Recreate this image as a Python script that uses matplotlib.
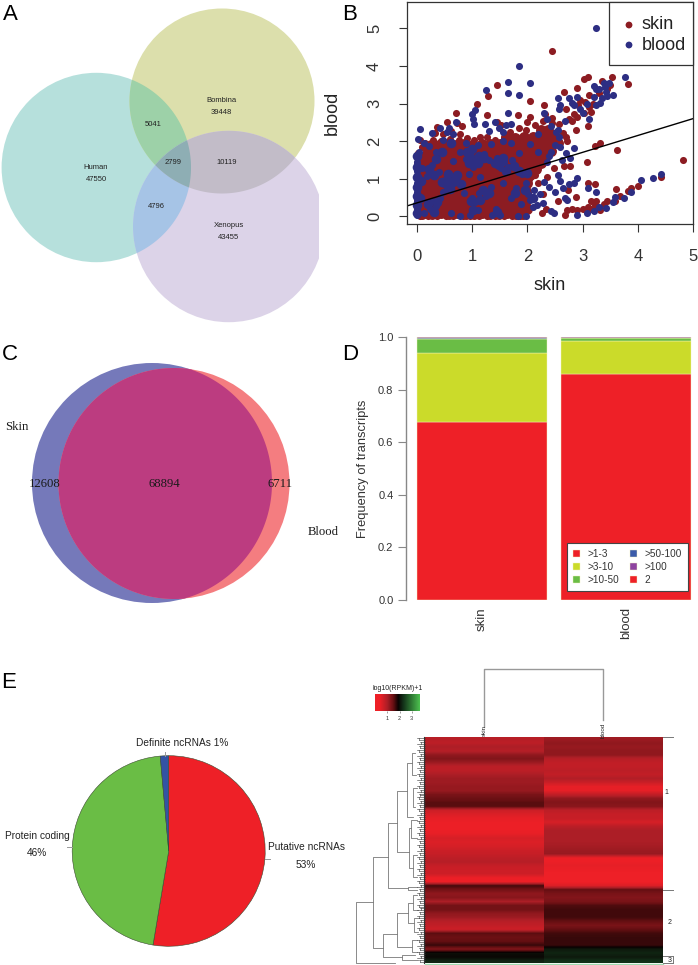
import numpy as np
import matplotlib
matplotlib.use('Agg')
import matplotlib.pyplot as plt
from matplotlib.colors import LinearSegmentedColormap
from matplotlib.patches import Circle, Polygon, Rectangle

W, H = 698, 965
plt.rcParams['font.family'] = ['Liberation Sans', 'DejaVu Sans']

# panel A
venn3_labels = ['Human', 'Bombina', 'Xenopus']
venn3_only = [47550, 39448, 43455]
venn3_pairs = [5041, 4796, 10119]
venn3_all = 2799

# panel B, points, (x, y)
skin_pts = [
    (0.05,0.0),(0.2,0.01),(0.36,0.0),(0.52,0.02),(0.66,0.0),(0.83,0.01),(0.97,0.0),(1.12,0.02),(1.27,0.0),(1.41,0.01),(1.58,0.0),(1.72,0.02),(1.86,0.0),
    (0.02,0.14),(0.15,0.16),(0.3,0.13),(0.46,0.17),(0.6,0.14),(0.76,0.18),(0.9,0.13),(1.05,0.16),(1.2,0.14),(1.34,0.18),(1.49,0.13),(1.63,0.17),(1.79,0.14),(1.94,0.16),
    (0.08,0.32),(0.24,0.3),(0.38,0.34),(0.53,0.31),(0.69,0.35),(0.84,0.3),(0.98,0.33),(1.13,0.3),(1.28,0.35),(1.42,0.31),(1.56,0.34),(1.71,0.3),(1.87,0.33),(2.0,0.3),
    (0.01,0.49),(0.16,0.5),(0.31,0.47),(0.45,0.52),(0.61,0.48),(0.77,0.51),(0.91,0.47),(1.06,0.52),(1.21,0.48),(1.35,0.5),(1.5,0.47),(1.64,0.52),(1.8,0.48),(1.93,0.5),
    (0.09,0.66),(0.23,0.64),(0.39,0.68),(0.54,0.65),(0.68,0.69),(0.82,0.64),(0.99,0.67),(1.14,0.64),(1.29,0.69),(1.43,0.65),(1.57,0.68),(1.72,0.64),(1.88,0.67),(2.02,0.65),
    (0.02,0.83),(0.17,0.81),(0.32,0.85),(0.47,0.82),(0.62,0.86),(0.75,0.81),(0.92,0.84),(1.07,0.81),(1.22,0.86),(1.36,0.82),(1.51,0.85),(1.65,0.81),(1.81,0.84),(1.95,0.82),
    (0.1,1.0),(0.25,0.98),(0.4,1.02),(0.55,0.99),(0.7,1.03),(0.85,0.98),(1.0,1.01),(1.15,0.98),(1.3,1.03),(1.44,0.99),(1.59,1.02),(1.74,0.98),(1.89,1.01),(2.03,0.99),
    (0.03,1.17),(0.18,1.15),(0.33,1.19),(0.48,1.16),(0.63,1.2),(0.78,1.15),(0.93,1.18),(1.08,1.15),(1.23,1.2),(1.37,1.16),(1.52,1.19),(1.67,1.15),(1.82,1.18),(1.97,1.16),
    (0.11,1.34),(0.26,1.32),(0.41,1.36),(0.56,1.33),(0.71,1.37),(0.86,1.32),(1.01,1.35),(1.16,1.32),(1.31,1.37),(1.45,1.33),(1.6,1.36),(1.75,1.32),(1.9,1.35),(2.05,1.33),(2.2,1.36),
    (0.04,1.51),(0.19,1.49),(0.34,1.53),(0.49,1.5),(0.64,1.54),(0.79,1.49),(0.94,1.52),(1.09,1.49),(1.24,1.54),(1.38,1.5),(1.53,1.53),(1.68,1.49),(1.83,1.52),(1.98,1.5),(2.12,1.53),(2.28,1.5),
    (0.02,1.68),(0.12,1.66),(0.27,1.7),(0.42,1.67),(0.57,1.71),(0.72,1.66),(0.87,1.69),(1.02,1.66),(1.17,1.71),(1.32,1.67),(1.46,1.7),(1.61,1.66),(1.76,1.69),(1.91,1.67),(2.06,1.7),(2.22,1.67),(2.37,1.7),
    (0.1,1.85),(0.2,1.83),(0.35,1.87),(0.5,1.84),(0.65,1.88),(0.8,1.83),(0.95,1.86),(1.1,1.83),(1.25,1.88),(1.4,1.84),(1.55,1.87),(1.7,1.83),(1.85,1.86),(2.0,1.84),(2.15,1.87),(2.3,1.84),(2.45,1.87),
    (0.05,2.02),(0.14,1.96),(0.29,2.03),(0.44,2.0),(0.6,2.05),(0.76,2.02),(0.9,2.08),(1.04,2.02),(1.14,2.12),(1.27,2.1),(1.42,2.02),(1.58,2.08),(1.74,2.0),(1.9,2.06),(2.05,2.02),(2.2,2.06),(2.38,2.02),(2.52,2.1),(2.7,2.1),
    (0.33,2.22),(0.48,2.18),(0.62,2.28),(0.78,2.2),(0.72,2.48),(0.82,2.4),(0.54,2.52),(0.37,2.38),(1.45,2.5),(1.52,2.42),(1.68,2.25),(1.84,2.36),(1.98,2.3),(2.0,2.52),(2.13,2.42),(2.28,2.54),(2.44,2.48),(2.58,2.46),(2.65,2.22),(2.72,2.0),
    (0.71,2.75),(1.26,2.7),(1.83,2.7),(2.05,2.65),(2.3,2.95),(2.32,2.72),(1.09,3.0),(2.04,3.08),(1.29,3.2),(1.45,3.5),(2.44,4.4),(2.45,2.62),
    (2.67,3.3),(2.75,2.6),(2.7,2.85),(2.8,2.55),(2.85,2.72),(2.88,2.3),(2.9,2.65),(2.92,2.95),(2.95,3.1),(3.02,2.75),(3.04,3.05),(3.1,2.4),(3.12,2.9),(3.15,2.78),(3.18,3.0),(2.9,3.42),(3.02,3.65),(3.09,3.7),(3.35,3.6),(3.5,3.5),(3.53,3.7),(3.83,3.52),(3.3,3.28),(3.45,3.38),(3.12,3.22),
    (2.13,1.1),(2.2,0.9),(2.28,0.6),(2.35,1.05),(2.48,1.3),(2.55,0.4),(2.67,1.34),(2.78,1.35),(2.73,0.7),(2.88,0.52),(2.26,0.08),(2.33,0.2),(2.68,0.05),(2.72,0.18),(2.8,0.2),(2.9,0.16),(3.0,0.2),(3.1,0.25),(3.15,0.2),(3.22,0.3),(3.15,0.4),(3.25,0.42),(3.32,0.16),(3.38,0.32),(3.45,0.4),(3.58,0.42),(3.1,0.88),(3.23,0.85),(3.08,1.45),(3.62,1.77),(3.22,1.88),(3.32,1.96),(3.6,0.72),(3.68,0.55),(3.82,0.68),(3.87,0.77),(4.0,0.8),(4.42,1.05),(4.82,1.5),
]
# second reading of the dense cloud, between the rows above
skin_fill = [
    (0.1,0.07),(0.27,0.06),(0.43,0.08),(0.58,0.06),(0.73,0.08),(0.89,0.06),(1.03,0.07),(1.18,0.08),(1.33,0.06),(1.48,0.07),(1.64,0.08),(1.79,0.06),(1.92,0.07),
    (0.1,0.23),(0.22,0.24),(0.37,0.22),(0.53,0.25),(0.67,0.23),(0.83,0.24),(0.97,0.22),(1.12,0.25),(1.27,0.23),(1.41,0.24),(1.56,0.22),(1.7,0.25),(1.86,0.23),(2.0,0.2),
    (0.04,0.4),(0.16,0.41),(0.31,0.39),(0.46,0.42),(0.61,0.4),(0.76,0.42),(0.91,0.39),(1.06,0.41),(1.2,0.4),(1.35,0.42),(1.49,0.39),(1.64,0.41),(1.79,0.4),(1.94,0.42),
    (0.08,0.57),(0.24,0.58),(0.38,0.56),(0.53,0.59),(0.69,0.57),(0.84,0.58),(0.98,0.56),(1.13,0.59),(1.28,0.57),(1.42,0.58),(1.57,0.56),(1.72,0.59),(1.87,0.57),(1.98,0.58),
    (0.04,0.75),(0.16,0.73),(0.31,0.76),(0.46,0.74),(0.61,0.77),(0.76,0.73),(0.91,0.75),(1.06,0.73),(1.21,0.76),(1.35,0.74),(1.5,0.76),(1.64,0.73),(1.8,0.75),(1.95,0.74),
    (0.09,0.91),(0.24,0.9),(0.39,0.93),(0.54,0.9),(0.69,0.94),(0.83,0.9),(0.99,0.92),(1.14,0.9),(1.29,0.94),(1.43,0.9),(1.58,0.93),(1.73,0.9),(1.88,0.92),(1.99,0.9),
    (0.04,1.08),(0.17,1.07),(0.32,1.1),(0.47,1.07),(0.62,1.11),(0.77,1.06),(0.92,1.09),(1.07,1.06),(1.22,1.11),(1.37,1.07),(1.51,1.1),(1.66,1.07),(1.81,1.09),(1.96,1.07),(2.05,1.1),
    (0.1,1.25),(0.25,1.24),(0.4,1.27),(0.55,1.24),(0.7,1.28),(0.85,1.23),(1.0,1.26),(1.15,1.23),(1.3,1.28),(1.44,1.24),(1.59,1.27),(1.74,1.23),(1.89,1.26),(2.04,1.24),(2.15,1.26),
    (0.04,1.42),(0.18,1.41),(0.33,1.44),(0.48,1.41),(0.63,1.45),(0.78,1.41),(0.93,1.43),(1.08,1.41),(1.23,1.45),(1.37,1.41),(1.52,1.44),(1.67,1.41),(1.82,1.43),(1.97,1.41),(2.12,1.44),(2.25,1.41),
    (0.11,1.59),(0.26,1.58),(0.41,1.61),(0.56,1.58),(0.71,1.62),(0.86,1.57),(1.01,1.6),(1.16,1.57),(1.31,1.62),(1.45,1.58),(1.6,1.61),(1.75,1.58),(1.9,1.6),(2.05,1.58),(2.2,1.6),(2.32,1.58),
    (0.2,1.76),(0.35,1.75),(0.5,1.78),(0.65,1.75),(0.8,1.79),(0.95,1.74),(1.1,1.77),(1.25,1.74),(1.4,1.79),(1.55,1.75),(1.7,1.78),(1.85,1.75),(2.0,1.77),(2.15,1.75),(2.3,1.77),(2.42,1.75),
    (0.25,1.9),(0.4,1.9),(0.55,1.92),(0.7,1.9),(0.85,1.92),(1.0,1.9),(1.18,1.93),(1.33,1.93),(1.5,1.92),(1.65,1.94),(1.8,1.92),(1.97,1.94),(2.12,1.92),(2.28,1.95),(2.43,1.93),(2.55,1.95),
    (1.62,2.1),(1.78,2.08),(1.94,2.12),(2.1,2.1),(2.28,2.14),(2.44,2.16),(2.25,2.3),(2.38,2.3),
]
blood_pts = [
    (0.0,0.03),(0.0,0.2),(0.0,0.42),(0.0,0.65),(0.0,0.9),(0.0,1.2),(0.0,1.45),(0.03,1.72),(0.06,2.32),(0.02,2.06),
    (0.12,0.08),(0.24,0.2),(0.28,0.42),(0.34,0.28),(0.42,0.5),(0.62,0.08),(0.78,0.02),(0.97,0.03),(1.1,0.16),(1.36,0.04),(1.43,0.2),(1.5,0.05),(1.83,0.02),(1.97,0.01),
    (0.48,0.64),(0.55,0.78),(0.58,0.96),(0.63,0.85),(0.68,1.02),(0.74,0.92),(0.52,1.0),(0.85,0.62),(1.0,0.5),(1.05,0.38),(1.12,0.62),(1.25,0.55),(1.34,0.78),
    (0.18,1.08),(0.1,1.3),(0.28,1.36),(0.4,1.18),(0.94,1.14),(1.02,1.32),(1.14,1.06),(0.88,1.52),(0.98,1.62),(1.05,1.5),(1.22,1.66),(1.3,1.5),(0.78,1.72),(0.66,1.48),
    (1.52,1.28),(1.58,1.44),(1.65,1.32),(1.72,1.5),(1.45,1.56),(1.8,0.75),(1.88,0.32),(1.9,1.12),(1.98,0.88),(2.02,0.6),(2.1,0.24),(1.7,0.5),(1.55,0.9),
    (0.35,1.72),(0.22,1.88),(0.48,2.02),(0.55,2.25),(0.42,2.35),(0.58,2.36),(0.7,2.52),(0.66,2.2),(0.28,2.22),(0.12,1.94),(0.88,1.96),(1.1,1.9),(1.35,1.92),(1.55,2.0),(1.7,1.94),(1.85,1.7),(2.05,1.92),(2.2,1.72),
    (1.0,2.72),(1.02,2.58),(1.03,2.47),(1.06,2.84),(1.24,2.45),(1.3,2.28),(1.42,2.52),(1.48,2.35),(1.62,2.42),(1.65,2.74),(1.7,2.46),(1.56,2.24),(1.65,3.28),(1.65,3.58),(1.25,3.37),(1.84,3.22),(2.04,3.55),(1.85,3.99),(3.25,5.0),(2.2,2.2),(2.3,2.76),(2.35,2.6),(2.43,2.4),(2.52,2.25),(2.58,2.1),(2.6,1.85),(2.5,1.9),(2.42,1.72),(2.35,1.45),(2.4,1.62),(2.7,1.68),(2.55,2.3),(2.85,1.82),(2.78,1.55),(2.62,1.5),
    (2.56,3.14),(2.58,2.85),(2.6,2.95),(2.68,2.55),(2.75,3.15),(2.8,3.02),(2.85,2.95),(2.9,3.18),(2.95,2.85),(3.0,2.75),(3.08,3.0),(3.12,2.6),(3.2,3.48),(3.25,3.4),(3.2,3.18),(3.3,3.4),(3.25,2.95),(3.32,3.02),(3.42,3.3),(3.4,3.45),(3.48,3.55),(3.55,3.22),(3.35,3.15),(3.76,3.7),(3.45,3.2),(3.38,3.55),
    (2.12,0.7),(2.05,0.45),(2.18,0.3),(2.22,0.6),(2.3,0.92),(2.28,0.35),(2.4,0.78),(2.42,0.15),(2.48,0.1),(2.5,0.65),(2.55,1.1),(2.6,0.95),(2.65,0.75),(2.68,0.5),(2.72,0.45),(2.75,0.85),(2.85,0.88),(2.9,1.02),(2.9,0.03),(3.1,0.76),(3.24,0.65),(3.08,0.1),(3.2,0.14),(3.3,0.25),(3.42,0.22),(3.55,0.38),(3.58,0.52),(3.75,0.5),(3.88,0.65),(4.05,0.98),(4.28,1.02),(4.42,1.13),
]
# blue patches inside the cloud
blood_fill = [
    (0.0,0.1),(0.0,0.3),(0.0,0.55),(0.0,0.78),(0.0,1.05),(0.0,1.32),(0.0,1.6),(0.06,0.5),(0.07,0.95),
    (0.5,0.88),(0.6,0.72),(0.66,0.92),(0.72,1.1),(0.45,0.92),(0.8,0.85),(0.56,1.12),(0.36,0.38),(0.2,0.32),(0.3,0.12),
    (0.95,1.42),(1.1,1.42),(1.12,1.62),(0.9,1.72),(1.0,1.78),(1.22,1.55),(1.42,1.42),(1.55,1.55),(1.62,1.2),(1.48,1.38),(1.75,1.35),
    (0.98,0.42),(1.15,0.45),(1.2,0.7),(1.3,0.62),(1.02,0.18),(1.45,0.12),(1.78,0.62),(1.96,0.7),(2.1,0.5),
    (1.85,1.2),(2.0,1.15),(0.3,1.1),(0.22,1.25),(0.35,1.52),(0.45,1.72),(0.62,1.95),
]
reg_x = [-0.18, 5.0]
reg_y = [0.28, 2.6]

# panel C
venn2_only = [12608, 6711]
venn2_both = 68894

# panel D
bar_groups = ['skin', 'blood']
bar_labels = ['>1-3', '>3-10', '>10-50', '>50-100', '>100', '2']
bar_skin = [0.675, 0.263, 0.056, 0.004, 0.001, 0.001]
bar_blood = [0.858, 0.127, 0.010, 0.003, 0.001, 0.001]
bar_colors = ['#ee2027', '#cbdb2a', '#6abd45', '#3b5ba9', '#8e44a0', '#ee2027']

# panel E
pie_labels = ['Putative ncRNAs', 'Protein coding', 'Definite ncRNAs']
pie_vals = [52.6, 46.0, 1.4]
pie_colors = ['#ee2027', '#6abd45', '#3353a4']

# heatmap, log10(RPKM)+1
heat_skin = [0.9,0.85,1.0,0.9,1.2,1.3,1.1,0.85,0.85,1.0,1.1,1.1,1.15,1.15,1.35,1.45,1.55,1.55,
             0.7,0.55,0.45,0.4,0.4,0.4,0.45,0.6,0.55,0.6,0.7,0.75,0.85,0.9,0.75,0.7,0.7,0.4,0.4,
             1.65,1.4,1.2,1.25,1.0,1.4,1.4,1.2,1.1,0.9,0.8,0.7,1.55,1.45,1.5,1.7,1.3,2.0,1.95,2.2]
heat_blood = [1.1,1.2,1.15,1.2,1.2,0.9,0.8,0.8,0.85,0.8,0.95,0.7,0.45,0.45,0.8,1.2,1.3,1.25,
              0.85,0.75,0.75,0.6,0.85,1.0,1.0,1.0,1.0,1.05,1.1,1.15,0.4,0.4,0.45,0.4,0.35,0.35,0.35,
              0.55,1.5,1.35,1.3,1.35,1.6,1.65,1.65,1.65,1.5,1.35,1.5,1.65,1.7,1.7,1.7,2.1,2.2,2.1,2.3]
heat_ticks = [1, 2, 3]

# left dendrogram, read in 3x zoom pixels: x, y top, y bottom, x end top, x end bottom
dend = [
    (48,727,908,100,165),(100,590,865,143,130),(143,490,685,172,205),(172,392,575,202,207),
    (202,310,470,217,220),(217,280,345,224,228),(220,385,440,230,226),(207,505,625,213,218),
    (213,480,535,232,230),(218,585,650,232,230),(205,680,690,232,232),
    (130,822,892,170,185),(170,760,860,205,215),(205,730,790,218,222),(215,840,875,230,232),
    (185,885,900,225,235),(218,705,750,232,234),(222,775,815,236,234),
]

# pixel placement helpers
def px_axes(x0, y0, x1, y1, **kw):
    return fig.add_axes([x0/W, 1-y1/H, (x1-x0)/W, (y1-y0)/H], **kw)

def overlap(a, b, c=None):
    # convex region shared by two or three circles
    cs = [q for q in (a, b, c) if q is not None]
    t = np.linspace(0, 2*np.pi, 720, endpoint=False)
    pts = []
    for q in cs:
        p = np.c_[q[0]+q[2]*np.cos(t), q[1]+q[2]*np.sin(t)]
        keep = np.all([np.hypot(p[:,0]-o[0], p[:,1]-o[1]) <= o[2] for o in cs if o is not q], axis=0)
        pts.append(p[keep])
    pts = np.vstack(pts)
    m = pts.mean(axis=0)
    return pts[np.argsort(np.arctan2(pts[:,1]-m[1], pts[:,0]-m[0]))]

fig = plt.figure(figsize=(W/100, H/100), dpi=100)

ov = fig.add_axes([0, 0, 1, 1], zorder=5)
ov.set_xlim(0, W)
ov.set_ylim(H, 0)
ov.axis('off')
ov.patch.set_alpha(0)

for s, x, y in [('A',10,15), ('B',350,14), ('C',10,354), ('D',350,354), ('E',9,683)]:
    ov.text(x, y, s, fontsize=16, ha='center', va='center')

# A
hum = (96.3, 167.5, 94.7)
bom = (222, 101, 92.5)
xen = (228.7, 226.5, 95.7)
for c, col in [(hum,'#b6e0dc'), (bom,'#dcdfac'), (xen,'#dcd3e8')]:
    p = Circle(c[:2], c[2], fc=col, ec='none')
    ov.add_patch(p)
    p.set_clip_path(Rectangle((0,0), 319, 340, transform=ov.transData))
ov.add_patch(Polygon(overlap(hum, bom), fc='#9dd1a8', ec='none'))
ov.add_patch(Polygon(overlap(hum, xen), fc='#a6c4e6', ec='none'))
ov.add_patch(Polygon(overlap(bom, xen), fc='#c2bcc8', ec='none'))
ov.add_patch(Polygon(overlap(hum, bom, xen), fc='#8eaeb4', ec='none'))
for x, y, name, n in [(96,167.5,venn3_labels[0],venn3_only[0]), (221.5,101,venn3_labels[1],venn3_only[1]), (228.5,225.5,venn3_labels[2],venn3_only[2])]:
    ov.text(x, y, name, fontsize=5.5, ha='center', va='center', color='#222222')
    ov.text(x, y+12, str(n), fontsize=5.5, ha='center', va='center', color='#222222')
for x, y, n in [(153,124,venn3_pairs[0]), (156,206,venn3_pairs[1]), (226.5,163,venn3_pairs[2]), (173,162.5,venn3_all)]:
    ov.text(x, y, str(n), fontsize=5.5, ha='center', va='center', color='#222222')

# B, fill points drawn fatter so the cloud closes up like the many overlapping dots of the original
axb = px_axes(407, 2, 693, 224)
axb.set_xlim(-0.18, 5.0)
axb.set_ylim(-0.2, 5.7)
sx, sy = zip(*skin_pts)
fx, fy = zip(*skin_fill)
bx, by = zip(*blood_pts)
gx, gy = zip(*blood_fill)
axb.scatter(fx, fy, s=62, color='#8c1c22', lw=0)
axb.scatter(sx, sy, s=26, color='#8c1c22', lw=0)
axb.scatter(gx, gy, s=48, color='#2d2e83', lw=0)
axb.scatter(bx, by, s=26, color='#2d2e83', lw=0)
axb.plot(reg_x, reg_y, color='black', lw=1)
axb.set_xticks(range(6))
axb.set_yticks(range(6))
axb.tick_params(length=6, width=0.8, labelsize=12, color='#333333', labelcolor='#333333', pad=12)
plt.setp(axb.get_yticklabels(), rotation=90, va='center')
axb.set_xlabel('skin', fontsize=13, color='#222222', va='center')
axb.set_ylabel('blood', fontsize=13, color='#222222', va='center')
axb.xaxis.set_label_coords(0.5, -0.275)
axb.yaxis.set_label_coords(-0.262, 0.5)
for sp in axb.spines.values():
    sp.set_color('#333333')
    sp.set_linewidth(0.9)

# legend of B, box placed as in the picture
ov.add_patch(Rectangle((609, 2), 84, 63, fc='white', ec='#333333', lw=0.9))
ov.scatter([629, 629], [25, 45], s=24, c=['#8c1c22', '#2d2e83'], lw=0)
ov.text(642, 24.5, 'skin', fontsize=13, va='center', color='#222222')
ov.text(642, 45, 'blood', fontsize=13, va='center', color='#222222')

# C
skin_c = (152, 483, 120)
blood_c = (174, 483.5, 115.5)
ov.add_patch(Circle(skin_c[:2], skin_c[2], fc='#7579ba', ec='none'))
ov.add_patch(Circle(blood_c[:2], blood_c[2], fc='#f47d80', ec='none'))
ov.add_patch(Polygon(overlap(skin_c, blood_c), fc='#bc3c80', ec='none'))
for x, y, s in [(45,484,venn2_only[0]), (164.5,484,venn2_both), (280,484,venn2_only[1])]:
    ov.text(x, y, str(s), fontsize=9.2, family='Liberation Serif', ha='center', va='center', color='#1a1a1a')
ov.text(17, 427, 'Skin', fontsize=9.2, family='Liberation Serif', ha='center', va='center', color='#1a1a1a')
ov.text(323, 532, 'Blood', fontsize=9.2, family='Liberation Serif', ha='center', va='center', color='#1a1a1a')

# D
axd = px_axes(406, 337, 693, 600)
axd.set_xlim(-0.528, 1.465)
axd.set_ylim(0, 1)
bottom = np.zeros(2)
for i, lab in enumerate(bar_labels):
    vals = np.array([bar_skin[i], bar_blood[i]])
    axd.bar([0, 1], vals, 0.903, bottom=bottom, color=bar_colors[i], edgecolor='#f4f4c0', linewidth=0.3, label=lab)
    bottom += vals
axd.set_xticks([0, 1], bar_groups, rotation=90, fontsize=9.5, color='#333333')
axd.tick_params(axis='x', length=0, pad=5)
axd.set_yticks(np.arange(0, 1.01, 0.2))
axd.tick_params(axis='y', length=6, width=0.8, color='#888888', labelsize=8, labelcolor='#333333', pad=3)
axd.set_ylabel('Frequency of transcripts', fontsize=9.3, color='#333333', va='center')
axd.yaxis.set_label_coords(-0.15, 0.5)
for sp in ['top', 'right', 'bottom']:
    axd.spines[sp].set_visible(False)
axd.spines['left'].set_color('#888888')
axd.spines['left'].set_linewidth(1)
legd = axd.legend(ncol=2, loc='lower left', bbox_to_anchor=(161/287, 9/263), fontsize=7.2, frameon=True, fancybox=False,
                  edgecolor='#444444', framealpha=1, borderaxespad=0, handlelength=0.7, handleheight=0.7,
                  handletextpad=0.8, labelspacing=0.3, columnspacing=1.0, borderpad=0.6)
legd.get_frame().set_linewidth(0.8)
for t in legd.get_texts():
    t.set_color('#333333')

# E
axe = px_axes(168.7-96.5, 851-95.3, 168.7+96.5, 851+95.3)
axe.pie(pie_vals, colors=pie_colors, startangle=90, counterclock=False, radius=1,
        wedgeprops={'edgecolor': '#3a4a30', 'linewidth': 0.4})
axe.set_xlim(-1, 1)
axe.set_ylim(-1, 1)
axe.set_aspect('auto')
ov.text(182.5, 743.5, pie_labels[2]+' 1%', fontsize=7.3, ha='center', va='center', color='#222222')
ov.text(37.5, 836, pie_labels[1], fontsize=7.3, ha='center', va='center', color='#222222')
ov.text(37, 853.5, '46%', fontsize=7.3, ha='center', va='center', color='#222222')
ov.text(306, 847, pie_labels[0], fontsize=7.3, ha='center', va='center', color='#222222')
ov.text(306, 865, '53%', fontsize=7.3, ha='center', va='center', color='#222222')
for x0, y0, x1, y1 in [(164.5,752,164.5,755.5), (67,847,72,847), (265,859,270,859)]:
    ov.plot([x0, x1], [y0, y1], color='#999999', lw=0.7)

# heatmap, each column smoothed only along its rows
vm = 3.67
cmap = LinearSegmentedColormap.from_list('rkg', [(0, '#ee2027'), (0.37/vm, '#ee2027'), (1.0/vm, '#ac1e26'),
                                                 (1.5/vm, '#650f12'), (1.9/vm, '#0a0202'), (2.3/vm, '#123018'), (1, '#4cc04f')])
axh = px_axes(425, 737, 663, 963)
for j, col in enumerate([heat_skin, heat_blood]):
    axh.imshow(np.array(col)[:, None], cmap=cmap, vmin=0, vmax=vm, aspect='auto', interpolation='bilinear',
               extent=[j, j+1, len(col), 0])
axh.set_xlim(0, 2)
axh.set_ylim(len(heat_skin), 0)
axh.axis('off')
ov.plot([425, 663], [963.5, 963.5], color='#9fdcb0', lw=1)

axc = px_axes(375, 694, 420, 711)
axc.imshow(np.linspace(0, vm, 120)[None, :], cmap=cmap, vmin=0, vmax=vm, aspect='auto', extent=[0, vm, 0, 1])
axc.set_yticks([])
axc.set_xticks(heat_ticks)
axc.tick_params(axis='x', length=1.5, width=0.4, labelsize=4, pad=2, color='#555555', labelcolor='#333333')
for sp in axc.spines.values():
    sp.set_visible(False)
ov.text(397.5, 688, 'log10(RPKM)+1', fontsize=5, ha='center', va='center', color='#222222')

ov.text(484, 731, 'skin', fontsize=4.5, rotation=90, ha='center', va='center', color='#222222')
ov.text(603, 730, 'blood', fontsize=4.5, rotation=90, ha='center', va='center', color='#222222')
ov.plot([484, 484, 603, 603], [727, 668.5, 668.5, 720], color='#999999', lw=1)

# cut marks and cluster numbers at the right of the heatmap
for y in [737, 889.7, 963]:
    ov.plot([663, 673], [y, y], color='#777777', lw=0.7)
ov.plot([663, 673], [956, 956], color='#777777', lw=0.7)
ov.plot([673, 673], [956, 963], color='#777777', lw=0.7)
for x, y, s in [(666.5,792,'1'), (669.5,922.5,'2'), (669.5,960,'3')]:
    ov.text(x, y, s, fontsize=5, ha='center', va='center', color='#222222')

# left dendrogram
zx = lambda v: 340 + v/3
zy = lambda v: 660 + v/3
for x, y0, y1, xa, xb in dend:
    ov.plot([zx(xa), zx(x), zx(x), zx(xb)], [zy(y0), zy(y0), zy(y1), zy(y1)], color='#777777', lw=0.6)
edges = np.linspace(737, 963, 2*len(heat_skin)+1)
for k in range(len(edges)-1):
    ym = (edges[k]+edges[k+1])/2
    ov.plot([417+(k % 3)*1.5, 424.5], [ym, ym], color='#333333', lw=0.4)
    if k % 2 == 0:
        ov.plot([419+(k % 3), 419+(k % 3)], [ym, ym+2], color='#333333', lw=0.4)
ov.plot([424.2, 424.2], [737, 963], color='#333333', lw=0.8)

plt.savefig('out.png', dpi=100)
